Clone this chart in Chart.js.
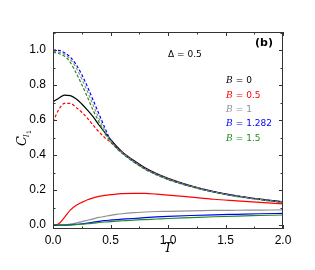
<!DOCTYPE html>
<html>
<head>
<meta charset="utf-8">
<script src="https://cdn.jsdelivr.net/npm/chart.js@4/dist/chart.umd.min.js"></script>
<style>
  html, body { margin: 0; padding: 0; background: #fff; }
  #wrap { width: 315px; height: 270px; }
</style>
</head>
<body>
<div id="wrap"><canvas id="grafico" width="315" height="270"></canvas></div>
<script>
// =========================
// DATOS
// =========================
const tVals = [0, 0.05, 0.1, 0.15, 0.2, 0.25, 0.3, 0.35, 0.4, 0.45, 0.5, 0.55, 0.6, 0.7, 0.8, 0.9, 1.0, 1.2, 1.4, 1.6, 1.8, 2.0];

// curvas superiores (discontinuas salvo B = 0)
const altoB0    = [0.705, 0.725, 0.742, 0.74, 0.722, 0.692, 0.657, 0.618, 0.572, 0.53, 0.49, 0.452, 0.42, 0.37, 0.328, 0.295, 0.268, 0.225, 0.192, 0.168, 0.149, 0.133];
const altoB05   = [0.59, 0.66, 0.695, 0.695, 0.673, 0.645, 0.61, 0.57, 0.532, 0.5, 0.474, 0.445, 0.416, 0.366, 0.324, 0.291, 0.264, 0.222, 0.19, 0.166, 0.147, 0.131];
const altoB1    = [0.992, 0.988, 0.976, 0.948, 0.9, 0.835, 0.762, 0.684, 0.61, 0.542, 0.483, 0.443, 0.414, 0.364, 0.322, 0.29, 0.263, 0.222, 0.19, 0.166, 0.147, 0.131];
const altoB1282 = [1.0, 0.998, 0.985, 0.96, 0.918, 0.86, 0.79, 0.712, 0.635, 0.557, 0.486, 0.444, 0.414, 0.364, 0.322, 0.29, 0.263, 0.222, 0.19, 0.166, 0.147, 0.131];
const altoB15   = [0.987, 0.98, 0.965, 0.93, 0.87, 0.803, 0.73, 0.654, 0.589, 0.525, 0.478, 0.44, 0.41, 0.361, 0.319, 0.287, 0.26, 0.219, 0.187, 0.163, 0.145, 0.129];

// curvas inferiores (continuas)
const bajoB05   = [0, 0.008, 0.045, 0.086, 0.112, 0.13, 0.145, 0.156, 0.164, 0.17, 0.174, 0.177, 0.18, 0.182, 0.181, 0.177, 0.172, 0.16, 0.148, 0.139, 0.13, 0.122];
const bajoB1    = [0, 0, 0.002, 0.006, 0.012, 0.02, 0.028, 0.036, 0.044, 0.05, 0.056, 0.061, 0.065, 0.071, 0.075, 0.078, 0.079, 0.082, 0.084, 0.085, 0.086, 0.087];
const bajoB1282 = [0, 0, 0, 0.001, 0.004, 0.008, 0.012, 0.017, 0.022, 0.026, 0.029, 0.032, 0.034, 0.038, 0.043, 0.047, 0.05, 0.055, 0.059, 0.062, 0.065, 0.067];
const bajoB15   = [0, 0, 0, 0.001, 0.003, 0.005, 0.008, 0.011, 0.015, 0.018, 0.02, 0.023, 0.025, 0.029, 0.032, 0.035, 0.038, 0.043, 0.048, 0.052, 0.055, 0.058];

const xTicks = [0, 0.5, 1.0, 1.5, 2.0];
const yTicks = [0, 0.2, 0.4, 0.6, 0.8, 1.0];
const leyenda = [
  { valor: "0", color: "#000000" },
  { valor: "0.5", color: "#ff0000" },
  { valor: "1", color: "#909090" },
  { valor: "1.282", color: "#0000ff" },
  { valor: "1.5", color: "#1e8c1e" }
];

// =========================
// SERIES
// =========================
function puntos(arr) {
  return tVals.map((t, i) => ({ x: t, y: arr[i] }));
}

function serie(arr, color, discontinua) {
  return {
    data: puntos(arr),
    borderColor: color,
    borderWidth: 1.2,
    borderDash: discontinua ? [3, 2] : [],
    pointRadius: 0,
    cubicInterpolationMode: "monotone",
    fill: false
  };
}

const datasets = [
  serie(bajoB15, "#1e8c1e", false),
  serie(bajoB1282, "#0000ff", false),
  serie(bajoB1, "#909090", false),
  serie(bajoB05, "#ff0000", false),
  serie(altoB15, "#1e8c1e", true),
  serie(altoB1, "#909090", true),
  serie(altoB1282, "#0000ff", true),
  serie(altoB05, "#ff0000", true),
  serie(altoB0, "#000000", false)
];

// =========================
// MARCO, TICKS Y TEXTOS
// =========================
const decoracion = {
  id: "decoracion",
  afterDraw(chart) {
    const ctx = chart.ctx;
    const a = chart.chartArea;
    const sx = chart.scales.x, sy = chart.scales.y;
    ctx.save();
    ctx.strokeStyle = "#333";
    ctx.lineWidth = 1;
    ctx.strokeRect(a.left + 0.5, a.top + 0.5, a.right - a.left - 1, a.bottom - a.top - 1);

    // ticks hacia dentro
    ctx.beginPath();
    for (let v = 0; v <= 2.0001; v += 0.25) {
      const px = Math.round(sx.getPixelForValue(v)) + 0.5;
      const largo = Math.abs(v * 2 - Math.round(v * 2)) < 0.01 ? 4 : 2.5;
      ctx.moveTo(px, a.bottom); ctx.lineTo(px, a.bottom - largo);
      ctx.moveTo(px, a.top); ctx.lineTo(px, a.top + largo);
    }
    for (let v = 0; v <= 1.1; v += 0.1) {
      const py = Math.round(sy.getPixelForValue(v)) + 0.5;
      const largo = Math.round(v * 10) % 2 === 0 ? 4 : 2.5;
      ctx.moveTo(a.left, py); ctx.lineTo(a.left + largo, py);
      ctx.moveTo(a.right, py); ctx.lineTo(a.right - largo, py);
    }
    ctx.stroke();

    // título eje Y: C_{l_1}
    ctx.save();
    ctx.translate(22, 138);
    ctx.rotate(-Math.PI / 2);
    ctx.fillStyle = "#000";
    ctx.textBaseline = "alphabetic";
    ctx.font = "italic 13px 'DejaVu Serif'";
    ctx.fillText("C", -8, 4);
    ctx.font = "italic 8px 'DejaVu Serif'";
    ctx.fillText("l", 1, 7);
    ctx.font = "6px 'DejaVu Sans'";
    ctx.fillText("1", 4, 9);
    ctx.restore();

    // título eje X
    ctx.fillStyle = "#000";
    ctx.font = "italic 13px 'DejaVu Serif'";
    ctx.textAlign = "center";
    ctx.textBaseline = "middle";
    ctx.fillText("T", 168, 249);

    // textos dentro del gráfico
    ctx.textAlign = "left";
    ctx.font = "9px 'DejaVu Sans'";
    ctx.fillText("\u0394 = 0.5", 168, 55);
    ctx.font = "bold 11px 'DejaVu Sans'";
    ctx.fillText("(b)", 255, 43);

    leyenda.forEach((item, i) => {
      const y = 81 + i * 14.3;
      ctx.fillStyle = item.color;
      ctx.font = "italic 9px 'DejaVu Serif'";
      ctx.fillText("B", 226, y);
      ctx.font = "9px 'DejaVu Sans'";
      ctx.fillText(" = " + item.valor, 233, y);
    });
    ctx.restore();
  }
};

// =========================
// GRÁFICO
// =========================
const ctx = document.getElementById("grafico").getContext("2d");
new Chart(ctx, {
  type: "line",
  data: { datasets: datasets },
  options: {
    responsive: false,
    animation: false,
    layout: { padding: { left: 0, right: 32, top: 32, bottom: 0 } },
    plugins: { legend: { display: false }, tooltip: { enabled: false } },
    scales: {
      x: {
        type: "linear",
        min: 0, max: 2,
        afterBuildTicks: s => { s.ticks = xTicks.map(v => ({ value: v })); },
        afterFit: s => { s.height = 41; },
        grid: { display: false, drawTicks: false },
        border: { display: false },
        ticks: {
          color: "#000",
          font: { family: "'Liberation Sans'", size: 12 },
          padding: 4,
          maxRotation: 0,
          callback: v => v.toFixed(1)
        }
      },
      y: {
        min: -0.022, max: 1.103,
        afterBuildTicks: s => { s.ticks = yTicks.map(v => ({ value: v })); },
        afterFit: s => { s.width = 53; },
        grid: { display: false, drawTicks: false },
        border: { display: false },
        ticks: {
          color: "#000",
          font: { family: "'Liberation Sans'", size: 12 },
          padding: 7,
          callback: v => v.toFixed(1)
        }
      }
    }
  },
  plugins: [decoracion]
});
</script>
</body>
</html>
